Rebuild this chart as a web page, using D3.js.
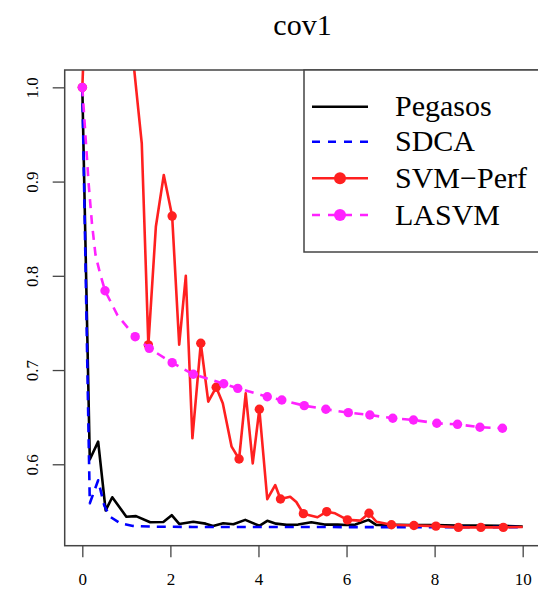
<!DOCTYPE html>
<html>
<head>
<meta charset="utf-8">
<script src="https://cdn.jsdelivr.net/npm/d3@7"></script>
<style>
  html, body { margin: 0; padding: 0; background: #fff; }
  svg { display: block; }
  svg text { font-family: "Liberation Serif", "DejaVu Serif", serif; }
</style>
</head>
<body>
<svg id="chart" width="538" height="589"></svg>
<script>
// ---------------- data ----------------
const chartTitle = "cov1";
const seriesNames = ["Pegasos", "SDCA", "SVM\u2212Perf", "LASVM"];
const seriesColors = ["#000000", "#0000ff", "#ff2020", "#ff22ff"];
const xTicks = [0, 2, 4, 6, 8, 10];
const yTicks = [0.6, 0.7, 0.8, 0.9, 1.0];
const yTickLabels = ["0.6", "0.7", "0.8", "0.9", "1.0"];

const pegasosX = [0, 0.17, 0.36, 0.53, 0.68, 1.0, 1.22, 1.54, 1.84, 2.03, 2.2, 2.52, 2.8, 2.97, 3.2, 3.43, 3.7, 4.02, 4.2, 4.4, 4.64, 4.9, 5.2, 5.5, 5.8, 6.0, 6.2, 6.5, 6.68, 7.0, 7.5, 8.0, 8.5, 9.0, 9.5, 10];
const pegasosY = [1.0, 0.605, 0.624, 0.551, 0.565, 0.5444, 0.545, 0.5385, 0.5388, 0.546, 0.5367, 0.539, 0.537, 0.5345, 0.5374, 0.5363, 0.541, 0.5347, 0.540, 0.537, 0.5357, 0.536, 0.5385, 0.536, 0.536, 0.5355, 0.536, 0.541, 0.5355, 0.5357, 0.5355, 0.5355, 0.535, 0.535, 0.5348, 0.534];

const sdcaX = [0, 0.17, 0.36, 0.5, 0.63, 0.86, 1.15, 1.6, 2.5, 3.5, 4.5, 5.5, 6.5, 7.5, 8.5, 10];
const sdcaY = [1.0, 0.5586, 0.583, 0.556, 0.5444, 0.5374, 0.5346, 0.5338, 0.5335, 0.5335, 0.5334, 0.5334, 0.5333, 0.5333, 0.5333, 0.5333];

const svmPerfX = [0, 0.5, 1.0, 1.35, 1.5, 1.67, 1.85, 2.04, 2.2, 2.35, 2.5, 2.69, 2.86, 3.04, 3.19, 3.39, 3.56, 3.71, 3.87, 4.02, 4.2, 4.38, 4.5, 4.72, 4.86, 5.02, 5.34, 5.55, 5.74, 6.02, 6.31, 6.51, 6.68, 7.02, 7.53, 8.03, 8.54, 9.05, 9.56, 10];
const svmPerfY = [1.0, 1.6, 1.1, 0.9406, 0.7267, 0.852, 0.907, 0.8634, 0.727, 0.80, 0.6276, 0.7284, 0.6664, 0.6817, 0.6647, 0.6187, 0.6056, 0.6753, 0.601, 0.6584, 0.5629, 0.578, 0.5632, 0.5656, 0.560, 0.5476, 0.5438, 0.5497, 0.548, 0.541, 0.5402, 0.548, 0.539, 0.5358, 0.535, 0.5344, 0.533, 0.533, 0.533, 0.5335];
const svmPerfMark = [1, 1, 1, 0, 1, 0, 0, 1, 0, 0, 0, 1, 0, 1, 0, 0, 1, 0, 0, 1, 0, 0, 1, 0, 0, 1, 0, 1, 0, 1, 0, 1, 0, 1, 1, 1, 1, 1, 1, 0];

const lasvmX = [0, 0.07, 0.14, 0.22, 0.3, 0.4, 0.515, 0.8, 1.2, 1.52, 2.04, 2.52, 3.21, 3.53, 4.2, 4.53, 5.04, 5.53, 6.04, 6.53, 7.05, 7.52, 8.05, 8.52, 9.03, 9.54, 9.75];
const lasvmY = [1.0, 0.95, 0.90, 0.855, 0.822, 0.803, 0.7842, 0.758, 0.7354, 0.723, 0.7078, 0.6955, 0.6855, 0.6806, 0.6717, 0.6682, 0.6622, 0.6584, 0.6548, 0.6523, 0.6488, 0.647, 0.6435, 0.6424, 0.6393, 0.6382, 0.637];
const lasvmMark = [1, 0, 0, 0, 0, 0, 1, 0, 1, 1, 1, 1, 1, 1, 1, 1, 1, 1, 1, 1, 1, 1, 1, 1, 1, 1, 0];

// ---------------- layout ----------------
const svg = d3.select("#chart");
const plotLeft = 64.7, plotRight = 540.3, plotTop = 70, plotBottom = 545.7;
const x = d3.scaleLinear().domain([-0.4, 10.4]).range([plotLeft, plotRight]);
const y = d3.scaleLinear().domain([0.5136, 1.0184]).range([plotBottom, plotTop]);

svg.append("defs").append("clipPath").attr("id", "plotclip")
  .append("rect").attr("x", plotLeft).attr("y", plotTop)
  .attr("width", plotRight - plotLeft).attr("height", plotBottom - plotTop);

// title
svg.append("text").attr("x", (plotLeft + plotRight) / 2).attr("y", 35)
  .attr("text-anchor", "middle").style("font-size", "30px")
  .attr("fill", "#000").text(chartTitle);

// axes
const xAxis = svg.append("g").attr("transform", `translate(0,${plotBottom})`)
  .call(d3.axisBottom(x).tickValues(xTicks).tickSize(11.5).tickFormat(d3.format("d")));
xAxis.attr("font-family", null).attr("font-size", null);
xAxis.select(".domain").remove();
xAxis.selectAll("line").attr("stroke", "#444").attr("stroke-width", 1.3);
xAxis.selectAll("text").attr("y", 39).attr("dy", 0)
  .style("font-size", "17px").attr("fill", "#000");

const yAxis = svg.append("g").attr("transform", `translate(${plotLeft},0)`)
  .call(d3.axisLeft(y).tickValues(yTicks).tickSize(12).tickFormat((d, i) => yTickLabels[i]));
yAxis.attr("font-family", null).attr("font-size", null);
yAxis.select(".domain").remove();
yAxis.selectAll("line").attr("stroke", "#444").attr("stroke-width", 1.3);
yAxis.selectAll("text").attr("x", 0).attr("y", 0).attr("dy", 0)
  .attr("transform", "translate(-26.5,0) rotate(-90)")
  .attr("text-anchor", "middle")
  .style("font-size", "17px").attr("fill", "#000");

// series
const plot = svg.append("g").attr("clip-path", "url(#plotclip)");
const lineGen = d3.line().x(d => x(d[0])).y(d => y(d[1]));
const zip = (xs, ys) => xs.map((v, i) => [v, ys[i]]);

const series = [
  { pts: zip(pegasosX, pegasosY), color: seriesColors[0], dash: null, mark: null },
  { pts: zip(sdcaX, sdcaY), color: seriesColors[1], dash: "9,7", mark: null },
  { pts: zip(svmPerfX, svmPerfY), color: seriesColors[2], dash: null, mark: svmPerfMark },
  { pts: zip(lasvmX, lasvmY), color: seriesColors[3], dash: "9,7", mark: lasvmMark }
];

series.forEach(s => {
  plot.append("path").datum(s.pts)
    .attr("d", lineGen).attr("fill", "none")
    .attr("stroke", s.color).attr("stroke-width", 2.6)
    .attr("stroke-linejoin", "round")
    .attr("stroke-dasharray", s.dash);
  if (s.mark) {
    plot.selectAll(null).data(s.pts.filter((d, i) => s.mark[i]))
      .enter().append("circle")
      .attr("cx", d => x(d[0])).attr("cy", d => y(d[1])).attr("r", 4.7)
      .attr("fill", s.color);
  }
});

// plot box
svg.append("rect").attr("x", plotLeft).attr("y", plotTop)
  .attr("width", plotRight - plotLeft).attr("height", plotBottom - plotTop)
  .attr("fill", "none").attr("stroke", "#444").attr("stroke-width", 1.5);

// legend
const legend = svg.append("g");
legend.append("rect").attr("x", 304).attr("y", plotTop).attr("width", 260).attr("height", 182)
  .attr("fill", "#fff").attr("stroke", "#444").attr("stroke-width", 1.5);
const legDash = [null, "8,8", null, "8,8"];
const legMark = [false, false, true, true];
const legY = [106.7, 141.7, 178.3, 215];
seriesNames.forEach((name, i) => {
  const g = legend.append("g");
  g.append("line").attr("x1", 312).attr("x2", 368).attr("y1", legY[i]).attr("y2", legY[i])
    .attr("stroke", seriesColors[i]).attr("stroke-width", 2.4)
    .attr("stroke-dasharray", legDash[i]);
  if (legMark[i]) {
    g.append("circle").attr("cx", 340).attr("cy", legY[i]).attr("r", 6).attr("fill", seriesColors[i]);
  }
  g.append("text").attr("x", 395).attr("y", legY[i] + 9.5)
    .style("font-size", "30px").attr("fill", "#000").text(name);
});
</script>
</body>
</html>
